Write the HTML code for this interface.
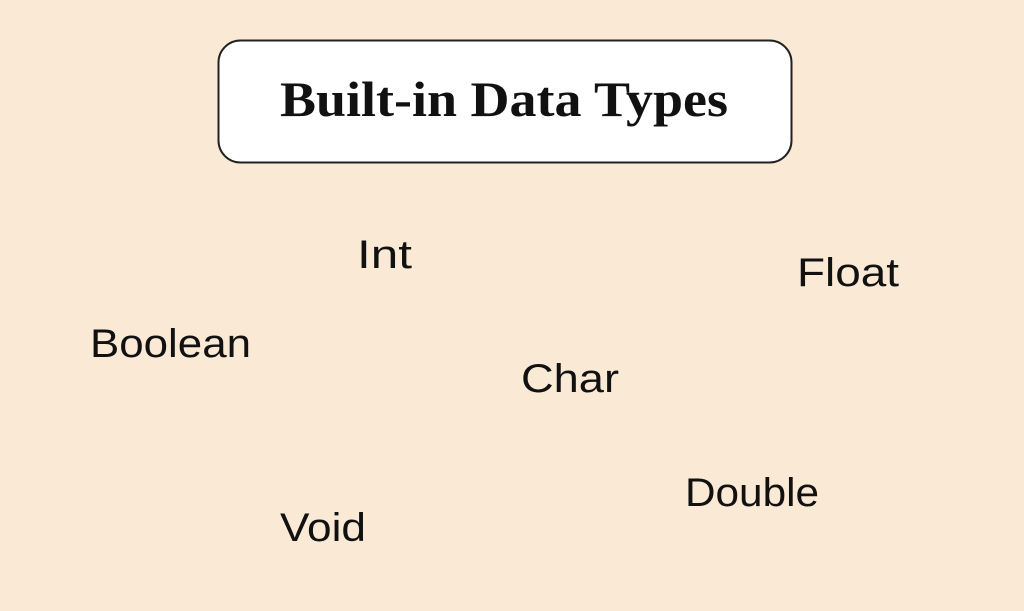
<!DOCTYPE html>
<html><head><meta charset="utf-8"><style>
html,body{margin:0;padding:0;background:#FAE9D5;}
svg{display:block}
</style></head><body>
<svg width="1024" height="611" viewBox="0 0 1024 611" xmlns="http://www.w3.org/2000/svg">
<rect width="1024" height="611" fill="#FAE9D5"/>
<rect x="218.5" y="40.5" width="573" height="122" rx="22" fill="#fff" stroke="#222" stroke-width="2"/>
<text x="280" y="116" font-family="Liberation Serif, serif" font-weight="bold" font-size="50" textLength="448" lengthAdjust="spacingAndGlyphs" fill="#111">Built-in Data Types</text>
<g font-family="Liberation Sans, sans-serif" font-size="40" fill="#111">
<text x="357" y="268" textLength="55" lengthAdjust="spacingAndGlyphs">Int</text>
<text x="797" y="286" textLength="102" lengthAdjust="spacingAndGlyphs">Float</text>
<text x="90" y="357" textLength="161" lengthAdjust="spacingAndGlyphs">Boolean</text>
<text x="521" y="392" textLength="98" lengthAdjust="spacingAndGlyphs">Char</text>
<text x="685" y="506" textLength="134" lengthAdjust="spacingAndGlyphs">Double</text>
<text x="280" y="541" textLength="86" lengthAdjust="spacingAndGlyphs">Void</text>
</g>
</svg>
</body></html>
